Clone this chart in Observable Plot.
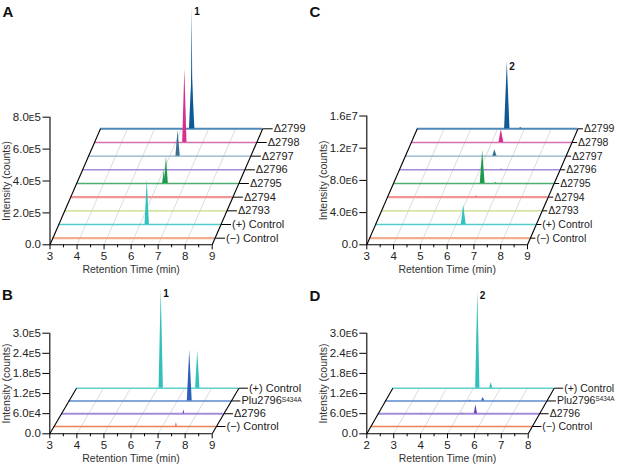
<!DOCTYPE html>
<html><head><meta charset="utf-8">
<script src="https://cdn.jsdelivr.net/npm/d3@7"></script>
<script src="https://cdn.jsdelivr.net/npm/@observablehq/plot@0.6"></script>
<style>
body{margin:0;background:#fff;}
#fig{position:relative;width:617px;height:465px;overflow:hidden;font-family:"Liberation Sans",Arial,sans-serif;}
#fig svg{position:absolute;left:0;top:0;}
</style></head><body><div id="fig"></div>
<script>
// ---------------- data ----------------
// traces are listed front (index 0) to back
const tracesAC = ["(−) Control", "(+) Control", "Δ2793", "Δ2794", "Δ2795", "Δ2796", "Δ2797", "Δ2798", "Δ2799"];
const tracesBD = ["(−) Control", "Δ2796", "Plu2796S434A", "(+) Control"];

// peaks: [trace, retention time (min), intensity (counts), half width (min), label]
const peaksA = [
  ["Δ2799", 6.39, 3.64e5, 0.10, ""],
  ["Δ2799", 6.39, 7.63e5, 0.035, "1"],
  ["Δ2798", 6.34, 4.58e5, 0.08, ""],
  ["Δ2797", 6.31, 1.61e5, 0.08, ""],
  ["Δ2795", 6.24, 0.82e5, 0.06, ""],
  ["Δ2795", 6.32, 1.67e5, 0.07, ""],
  ["(+) Control", 6.27, 2.84e5, 0.08, ""]
];
const peaksC = [
  ["Δ2799", 6.36, 8.27e6, 0.10, "2"],
  ["Δ2799", 6.86, 1.5e5, 0.05, ""],
  ["Δ2798", 6.36, 1.61e6, 0.09, ""],
  ["Δ2797", 6.34, 7.9e5, 0.08, ""],
  ["Δ2796", 6.81, 0.9e5, 0.04, ""],
  ["Δ2795", 6.33, 4.1e6, 0.09, ""],
  ["Δ2795", 6.82, 1.2e5, 0.04, ""],
  ["Δ2794", 6.32, 1.6e5, 0.06, ""],
  ["Δ2793", 6.33, 0.8e5, 0.04, ""],
  ["(+) Control", 6.29, 2.4e6, 0.09, ""]
];
const peaksB = [
  ["(+) Control", 6.13, 2.95e5, 0.08, "1"],
  ["(+) Control", 7.48, 1.12e5, 0.08, ""],
  ["Plu2796S434A", 7.46, 1.51e5, 0.09, ""],
  ["Δ2796", 7.52, 1.2e4, 0.03, ""],
  ["(−) Control", 7.52, 1.3e4, 0.03, ""]
];
const peaksD = [
  ["(+) Control", 5.16, 2.9e6, 0.08, "2"],
  ["(+) Control", 5.66, 1.67e5, 0.06, ""],
  ["Plu2796S434A", 5.63, 1.0e5, 0.06, ""],
  ["Plu2796S434A", 5.15, 3e4, 0.04, ""],
  ["Δ2796", 5.63, 2.7e5, 0.06, ""],
  ["Δ2796", 5.13, 2e4, 0.04, ""],
  ["Δ2796", 3.62, 1.5e4, 0.04, ""]
];

const xTicksABC = [3, 4, 5, 6, 7, 8, 9];
const xTicksD = [2, 3, 4, 5, 6, 7, 8];
const yTicksA = [0, 2e5, 4e5, 6e5, 8e5];
const yTicksC = [0, 4e6, 8e6, 1.2e7, 1.6e7];
const yTicksB = [0, 6e4, 1.2e5, 1.8e5, 2.4e5, 3e5];
const yTicksD = [0, 6e5, 1.2e6, 1.8e6, 2.4e6, 3e6];

const xTitle = "Retention Time (min)";
const yTitle = "Intensity (counts)";

// ---------------- styles / geometry ----------------
const lineColorsAC = ["#f2ad90", "#55cccc", "#c3dc80", "#f29595", "#4fae72", "#a58ad6", "#8cb0c9", "#d470b0", "#4f88ba"];
const lineWidthsAC = [2.2, 1.4, 1.4, 2.2, 1.4, 1.4, 1.4, 1.4, 2];
const peakColorsAC = ["#f0a080", "#33c2c0", "#b5d060", "#e86060", "#1d9a4c", "#7b52c0", "#3a6f90", "#d7308c", "#0f5a96"];
const lineColorsBD = ["#ec8253", "#a68cd8", "#5b8bd0", "#5fd0cc"];
const lineWidthsBD = [1.6, 2.2, 1.6, 1.6];
const peakColorsBD = ["#e0602c", "#6a3db5", "#2d60b8", "#33c0bc"];

const gA = {x0px: 49.5, x1px: 211.7, y0px: 244.3, yTopPx: 116.7, depthPx: 116, slantPx: 50.5, f0: 0.057, tickPx: 10, labelSize: 11};
const gC = {x0px: 366.3, x1px: 527, y0px: 244.3, yTopPx: 115.5, depthPx: 116, slantPx: 50.5, f0: 0.057, tickPx: 5, labelSize: 10.5};
const gB = {x0px: 49.3, x1px: 211.7, y0px: 433.3, yTopPx: 332.7, depthPx: 45.6, slantPx: 26.7, f0: 0.16, tickPx: 9, labelSize: 11};
const gD = {x0px: 366.3, x1px: 527.7, y0px: 433.3, yTopPx: 332.7, depthPx: 45.6, slantPx: 26, f0: 0.16, tickPx: 9, labelSize: 10.5};

const W = 617, H = 465;
const FONT = '"Liberation Sans", Arial, sans-serif';

function fmt(d) {
  if (d === 0) return "0.0";
  const e = Math.floor(Math.log10(d) + 1e-9);
  return (d / 10 ** e).toFixed(1) + "E" + e;
}

function panel(c) {
  const g = c.g;
  const xmin = c.xTicks[0], xmax = c.xTicks[c.xTicks.length - 1];
  const yMax = c.yTicks[c.yTicks.length - 1];
  const kx = (g.x1px - g.x0px) / (xmax - xmin);
  const ky = (g.y0px - g.yTopPx) / yMax;
  const DX = g.slantPx / kx, DY = g.depthPx / ky;
  const n = c.traces.length;
  const T = c.traces.map((name, i) => {
    const f = g.f0 + (1 - g.f0) * i / (n - 1);
    return {name, i, sx: f * DX, sy: f * DY};
  });
  const byName = Object.fromEntries(T.map(t => [t.name, t]));
  const minor = d3.range(xmin + 0.5, xmax, 1);
  const grid = c.xTicks.slice(1, -1);
  const tickLen = g.tickPx / kx;
  const marks = [];
  marks.push(Plot.link(grid, {x1: d => d, y1: 0, x2: d => d + DX, y2: DY, stroke: "#c4c4c4", strokeWidth: 0.6}));
  for (let i = n - 1; i >= 0; i--) {
    const t = T[i];
    marks.push(Plot.ruleY([t.sy], {x1: xmin + t.sx, x2: xmax + t.sx, stroke: c.lineColors[i], strokeWidth: c.lineWidths[i]}));
    const pts = [];
    c.peaks.filter(p => p[0] === t.name).forEach((p, k) => {
      const [, rt, h, w] = p;
      pts.push({id: k, x: rt - w + t.sx, y: t.sy}, {id: k, x: rt + t.sx, y: t.sy + h}, {id: k, x: rt + w + t.sx, y: t.sy});
    });
    if (pts.length) marks.push(Plot.areaY(pts, {x: "x", y1: t.sy, y2: "y", z: "id", fill: c.peakColors[i]}));
  }
  // floor edges and axes
  marks.push(Plot.link([0], {x1: xmin, y1: 0, x2: xmin + DX, y2: DY, stroke: "black", strokeWidth: 1.1}));
  marks.push(Plot.link([0], {x1: xmax, y1: 0, x2: xmax + DX, y2: DY, stroke: "black", strokeWidth: 1.1}));
  marks.push(Plot.ruleY([0], {x1: xmin, x2: xmax, stroke: "black", strokeWidth: 1.1}));
  marks.push(Plot.ruleX([xmin], {y1: 0, y2: yMax, stroke: "black", strokeWidth: 1.1}));
  marks.push(Plot.link(T, {x1: t => xmax + t.sx, x2: t => xmax + t.sx + tickLen, y1: "sy", y2: "sy", stroke: "black", strokeWidth: 1}));
  marks.push(Plot.text(T, {x: t => xmax + t.sx + tickLen, y: "sy", text: "name", dx: 1, textAnchor: "start", fontSize: g.labelSize, fill: "#222"}));
  marks.push(Plot.axisX(c.xTicks, {tickSize: 5, tickPadding: 2, fontSize: 11.5, label: null, fill: "#222"}));
  marks.push(Plot.axisX(minor, {tickSize: 3, fill: "none", stroke: "black", label: null}));
  marks.push(Plot.axisY(c.yTicks, {tickSize: 7, tickPadding: 2, tickFormat: fmt, fontSize: 11.5, label: null, fill: "#222"}));
  marks.push(Plot.text([xTitle], {x: (xmin + xmax) / 2, y: 0, dy: 25, fontSize: 10.5, fill: "#333"}));
  marks.push(Plot.text([yTitle], {x: xmin, y: yMax * 0.5, dx: -43, rotate: -90, fontSize: 10.5, fill: "#333"}));
  const lab = c.peaks.filter(p => p[4]).map(p => ({x: p[1] + byName[p[0]].sx, y: byName[p[0]].sy + p[2], text: p[4]}));
  marks.push(Plot.text(lab, {x: "x", y: "y", text: "text", dx: 2, dy: 1, lineAnchor: "top", textAnchor: "start", fontWeight: "bold", fontSize: 10, fill: "#111"}));

  const svg = Plot.plot({
    width: W, height: H,
    marginLeft: g.x0px, marginRight: W - g.x1px, marginTop: g.yTopPx, marginBottom: H - g.y0px,
    x: {domain: [xmin, xmax]},
    y: {domain: [0, yMax]},
    style: {background: "transparent", fontFamily: FONT, overflow: "visible", maxWidth: "none"},
    marks
  });
  d3.select(svg).selectAll("text").each(function () {
    const s = d3.select(this);
    const txt = this.textContent;
    let m = txt.match(/^(\d\.\d)E(\d)$/);
    if (m) {
      s.text(null);
      s.append("tspan").text(m[1]);
      s.append("tspan").attr("font-size", "0.75em").text("E");
      s.append("tspan").text(m[2]);
      return;
    }
    m = txt.match(/^(Plu2796)(S434A)$/);
    if (m) {
      s.text(null);
      s.append("tspan").text(m[1]);
      s.append("tspan").attr("font-size", "0.6em").attr("dy", "-0.45em").text(m[2]);
    }
  });
  return svg;
}

const fig = document.getElementById("fig");
fig.appendChild(panel({g: gA, traces: tracesAC, peaks: peaksA, xTicks: xTicksABC, yTicks: yTicksA, lineColors: lineColorsAC, lineWidths: lineWidthsAC, peakColors: peakColorsAC}));
fig.appendChild(panel({g: gC, traces: tracesAC, peaks: peaksC, xTicks: xTicksABC, yTicks: yTicksC, lineColors: lineColorsAC, lineWidths: lineWidthsAC, peakColors: peakColorsAC}));
fig.appendChild(panel({g: gB, traces: tracesBD, peaks: peaksB, xTicks: xTicksABC, yTicks: yTicksB, lineColors: lineColorsBD, lineWidths: lineWidthsBD, peakColors: peakColorsBD}));
fig.appendChild(panel({g: gD, traces: tracesBD, peaks: peaksD, xTicks: xTicksD, yTicks: yTicksD, lineColors: lineColorsBD, lineWidths: lineWidthsBD, peakColors: peakColorsBD}));

// panel letters
const letters = [["A", 2.5, 17], ["C", 309.5, 17], ["B", 2, 300], ["D", 309.5, 300.5]];
const ls = d3.select(fig).append("svg").attr("width", W).attr("height", H);
ls.selectAll("text").data(letters).join("text")
  .attr("x", d => d[1]).attr("y", d => d[2]).text(d => d[0])
  .attr("font-family", FONT).attr("font-weight", "bold").attr("font-size", 15).attr("fill", "#111");
</script></body></html>
